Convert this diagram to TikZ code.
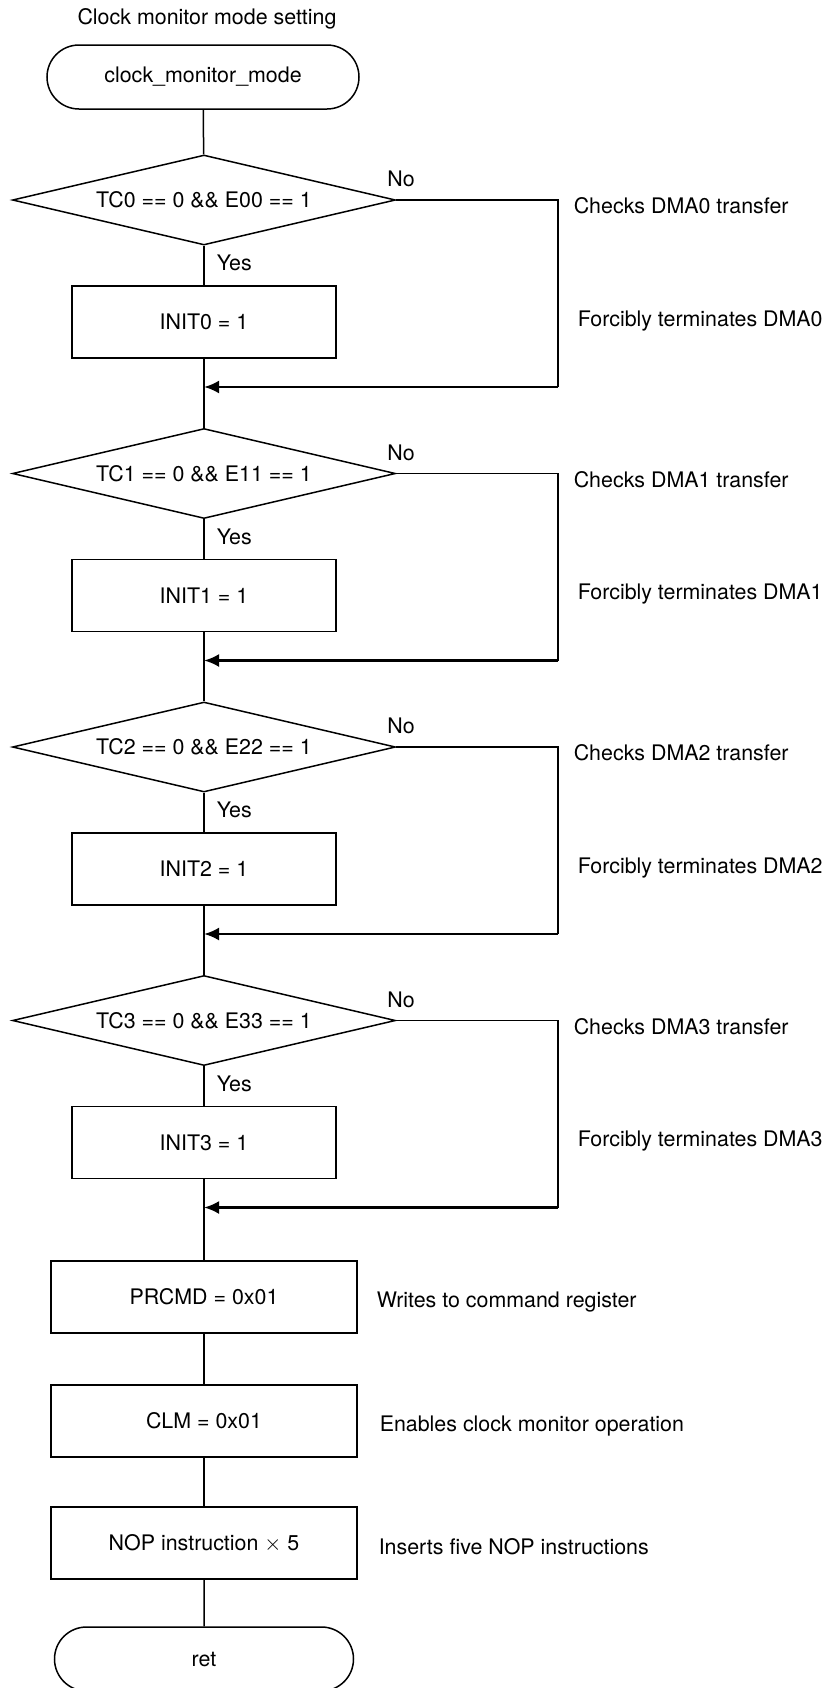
\documentclass[tikz,border=0pt]{standalone}
\usepackage{fontspec}
\setmainfont{TeX Gyre Heros}
\usetikzlibrary{shapes.geometric}
\usetikzlibrary{shapes.misc}
\usetikzlibrary{arrows.meta}
\tikzset{every node/.style={font=\fontsize{10.7}{12.8}\selectfont},
 terminal/.style={draw,rounded rectangle,minimum width=156pt,minimum height=32pt,inner sep=0pt},
 decision/.style={draw,diamond,aspect=4.26,minimum width=191.5pt,minimum height=45pt,inner sep=0pt},
 process/.style={draw,rectangle,minimum width=132pt,minimum height=36pt,inner sep=0pt},
 wideprocess/.style={process,minimum width=153pt},
 note/.style={anchor=west,inner sep=0pt},
 flow/.style={draw,line width=0.75pt},
 backflow/.style={draw,line width=1.3pt,-{Latex[length=7.5pt,width=6.5pt]}},
 }

\begin{document}
\begin{tikzpicture}[x=0.5pt,y=-0.5pt,line width=0.75pt]
        \useasboundingbox (0,0) rectangle (825,1688);
        \node (title) at (207,19) {Clock monitor mode setting};
        \node[terminal] (start) at (203,77) {clock\_monitor\_mode};
        % DMA0
        \node[decision] (tc0) at (204,200) {TC0 == 0 \&\& E00 == 1};
        \node[process] (init0) at (204,322) {INIT0 = 1};
        \node (no0) at (401,179) {No};
        \node[note] (yes0) at (216,263) {Yes};
        \node[note] (chk0) at (573,206) {Checks DMA0 transfer};
        \node[note] (term0) at (577,321) {Forcibly terminates DMA0};
        \coordinate (r0) at (558,387);
        \coordinate (j0) at (204,387);
        % DMA1
        \node[decision] (tc1) at (204,473.5) {TC1 == 0 \&\& E11 == 1};
        \node[process] (init1) at (204,595.5) {INIT1 = 1};
        \node (no1) at (401,452.5) {No};
        \node[note] (yes1) at (216,536.5) {Yes};
        \node[note] (chk1) at (573,479.5) {Checks DMA1 transfer};
        \node[note] (term1) at (577,594.5) {Forcibly terminates DMA1};
        \coordinate (r1) at (558,660.5);
        \coordinate (j1) at (204,660.5);
        % DMA2
        \node[decision] (tc2) at (204,747) {TC2 == 0 \&\& E22 == 1};
        \node[process] (init2) at (204,869) {INIT2 = 1};
        \node (no2) at (401,726) {No};
        \node[note] (yes2) at (216,810) {Yes};
        \node[note] (chk2) at (573,753) {Checks DMA2 transfer};
        \node[note] (term2) at (577,868) {Forcibly terminates DMA2};
        \coordinate (r2) at (558,934);
        \coordinate (j2) at (204,934);
        % DMA3
        \node[decision] (tc3) at (204,1020.5) {TC3 == 0 \&\& E33 == 1};
        \node[process] (init3) at (204,1142.5) {INIT3 = 1};
        \node (no3) at (401,999.5) {No};
        \node[note] (yes3) at (216,1083.5) {Yes};
        \node[note] (chk3) at (573,1026.5) {Checks DMA3 transfer};
        \node[note] (term3) at (577,1141.5) {Forcibly terminates DMA3};
        \coordinate (r3) at (558,1207.5);
        \coordinate (j3) at (204,1207.5);
        % clock monitor
        \node[wideprocess] (prcmd) at (204,1297) {PRCMD = 0x01};
        \node[wideprocess] (clm) at (204,1421) {CLM = 0x01};
        \node[wideprocess] (nop) at (204,1543) {NOP instruction $\times$ 5};
        \node[terminal,minimum width=149.5pt] (ret) at (204,1659) {ret};
        \node[note] (wr) at (376,1302) {Writes to command register};
        \node[note] (en) at (379,1426) {Enables clock monitor operation};
        \node[note] (ins) at (378,1547) {Inserts five NOP instructions};

        \draw[flow] (start) -- (tc0);
        \draw[flow] (tc0) -- (init0);
        \draw[flow] (init0) -- (tc1);
        \draw[flow] (tc1) -- (init1);
        \draw[flow] (init1) -- (tc2);
        \draw[flow] (tc2) -- (init2);
        \draw[flow] (init2) -- (tc3);
        \draw[flow] (tc3) -- (init3);
        \draw[flow] (init3) -- (prcmd);
        \draw[flow] (prcmd) -- (clm);
        \draw[flow] (clm) -- (nop);
        \draw[flow] (nop) -- (ret);
        \draw[flow] (tc0.east) -| (r0);
        \draw[backflow] (r0) -- (j0);
        \draw[flow] (tc1.east) -| (r1);
        \draw[backflow] (r1) -- (j1);
        \draw[flow] (tc2.east) -| (r2);
        \draw[backflow] (r2) -- (j2);
        \draw[flow] (tc3.east) -| (r3);
        \draw[backflow] (r3) -- (j3);
    \end{tikzpicture}
\end{document}
